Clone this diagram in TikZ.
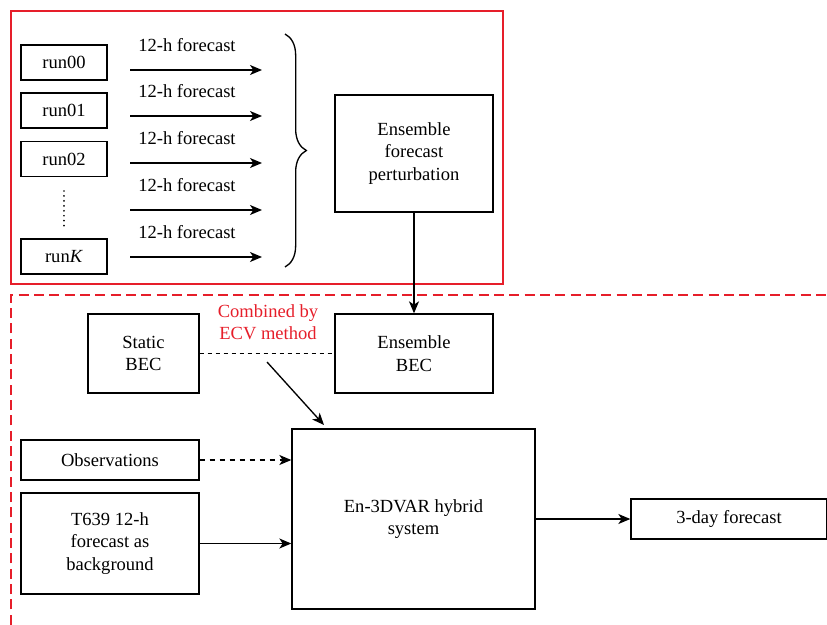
\documentclass[tikz,border=0pt]{standalone}
\usepackage{fontspec}
\setmainfont{Liberation Serif}
\usetikzlibrary{arrows.meta,decorations.pathreplacing}
\definecolor{framered}{RGB}{230,30,42}
\tikzset{blok/.style={draw,fill=white,line width=1pt,align=center,inner sep=0pt,minimum width=#1*0.75pt},blok/.default={86},
hoog/.style={minimum height=#1*0.75pt},
pijl/.style={line width=1pt,-{Stealth[length=9pt,width=7.5pt,inset=2.5pt]}},
lbl/.style={inner sep=0pt,align=center}}

\begin{document}
\begin{tikzpicture}
[x=0.75pt,y=-0.75pt,font=\fontsize{13.9}{16.9}\selectfont]
\useasboundingbox (0,0) rectangle (827,624);
\draw[framered,line width=0.8pt] (11,11) rectangle (503,284);
\draw[framered,line width=0.8pt,dash pattern=on 7.5pt off 4pt] (11,640) -- (11,295) -- (840,295);
\node [blok,hoog=35] (run0) at (64,62.5) {run00};
\node [blok,hoog=35] (run1) at (64,110.5) {run01};
\node [blok,hoog=35] (run2) at (64,159) {run02};
\node [blok,hoog=35] (runk) at (64,256.5) {run\textit{K}};
\draw[line width=1.4pt,line cap=round,dash pattern=on 0.01pt off 3.7pt] (64,191) -- (64,228);
\foreach \y [count=\i] in {70,116,163,210,257} {
	\coordinate (fs\i) at (130,\y);
	\coordinate (fe\i) at (262,\y);
	\draw[pijl] (fs\i) -- (fe\i);
	\node [lbl] (fl\i) at (187,\y-25) {12-h forecast};
}
\draw[line width=1pt,decorate,decoration={brace,amplitude=16pt}] (285,34) -- (285,267);
\node [blok=158,hoog=117] (pert) at (414,153.5) {Ensemble\\forecast\\perturbation};
\node [blok=111,hoog=79] (sbec) at (143.5,353.5) {Static\\BEC};
\node [blok=158,hoog=79] (ebec) at (414,353.5) {Ensemble\\BEC};
\node [lbl,text=framered] (ecv) at (268,322) {Combined by\\ECV method};
\node [blok=243,hoog=180] (hyb) at (413.5,519) {En-3DVAR hybrid\\system};
\node [blok=178,hoog=40] (obs) at (110,460) {Observations};
\node [blok=178,hoog=101] (bkg) at (110,543.5) {T639 12-h\\forecast as\\background};
\node [blok=196,hoog=40] (fc3) at (729,519) {3-day forecast};
\coordinate (ecvs) at (267,362);
\coordinate (ecve) at (324,425);
\draw[pijl] (pert) -- (ebec);
\draw[line width=1pt,dash pattern=on 3pt off 3pt] (sbec) -- (ebec);
\draw[pijl] (ecvs) -- (ecve);
\draw[pijl,dash pattern=on 4pt off 3.5pt] (obs.east) -- (obs.east -| hyb.west);
\draw[pijl] (bkg.east) -- (bkg.east -| hyb.west);
\draw[pijl] (hyb) -- (fc3);
\end{tikzpicture}
\end{document}
